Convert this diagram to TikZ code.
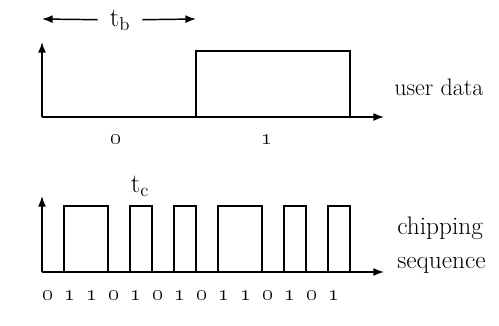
\documentclass[tikz,border=0pt]{standalone}
\usepackage{amsmath}
\usetikzlibrary{arrows.meta}

\tikzset{
	wave/.style={line width=1.1pt, line join=miter},
	axis/.style={line width=1.1pt, -{Latex[length=8pt,width=6pt]}},
	lbl/.style={inner sep=0.75pt, font=\fontsize{18}{24}\selectfont},
	bit/.style={inner sep=0.75pt, font=\fontsize{17}{18}\selectfont}
}

\begin{document}
\begin{tikzpicture}[x=0.75pt,y=0.75pt,yscale=-1,xscale=1]
	\useasboundingbox (0,0) rectangle (499,325);
	
	%Coordinates: axes
	\coordinate (uo) at (42,117);
	\coordinate (uy) at (42,42);
	\coordinate (ux) at (384,117);
	\coordinate (co) at (42,272);
	\coordinate (cy) at (42,196);
	\coordinate (cx) at (384,272);
	\coordinate (tbL) at (42,19);
	\coordinate (tbR) at (196,19);
	
	%Shape: Axis 2D (user data)
	\draw [axis] (uo) -- (uy);
	\draw [axis] (uo) -- (ux);
	%Straight Lines: data bit 1
	\draw [wave] (196,117) -- (196,51) -- (350,51) -- (350,117);
	
	%Shape: Axis 2D (chips)
	\draw [axis] (co) -- (cy);
	\draw [axis] (co) -- (cx);
	%Straight Lines: chip pulses
	\draw [wave] (64,272) -- (64,206) -- (108,206) -- (108,272)
		(130,272) -- (130,206) -- (152,206) -- (152,272)
		(174,272) -- (174,206) -- (196,206) -- (196,272)
		(218,272) -- (218,206) -- (262,206) -- (262,272)
		(284,272) -- (284,206) -- (306,206) -- (306,272)
		(328,272) -- (328,206) -- (350,206) -- (350,272);
	
	% Text Node
	\node [lbl, inner xsep=9pt, font=\fontsize{20}{24}\selectfont] (tb) at (120,20) {t\textsubscript{b}};
	\draw [axis] (tb) -- (tbL);
	\draw [axis] (tb) -- (tbR);
	% Text Node
	\node [lbl, font=\fontsize{20}{24}\selectfont] (tc) at (140,186) {t\textsubscript{c}};
	% Text Node
	\node [bit] (d0) at (116,140) {\oldstylenums{0}};
	\node [bit] (d1) at (267,140) {\oldstylenums{1}};
	% Text Node
	\foreach \b [count=\i from 0] in {0,1,1,0,1,0,1,0,1,1,0,1,0,1}
		\node [bit] (c\i) at (48+22*\i,296) {\oldstylenums{\b}};
	% Text Node
	\node [lbl, anchor=west] (user) at (393,87) {user data};
	\node [lbl, anchor=west, align=left, font=\fontsize{19}{25.5}\selectfont] (chip) at (396,245) {chipping\\sequence};
	
\end{tikzpicture}
\end{document}
